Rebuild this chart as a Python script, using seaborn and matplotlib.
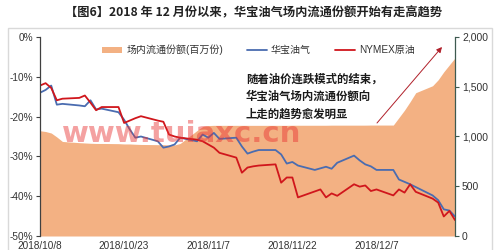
import matplotlib
matplotlib.use('Agg')
import matplotlib.pyplot as plt
from matplotlib.patches import Patch, Rectangle
from matplotlib.lines import Line2D
import seaborn as sns
import pandas as pd

# ---------------- data ----------------
dates = ['2018-10-08', '2018-10-09', '2018-10-10', '2018-10-11', '2018-10-12',
         '2018-10-15', '2018-10-16', '2018-10-17', '2018-10-18', '2018-10-19',
         '2018-10-22', '2018-10-23', '2018-10-24', '2018-10-25', '2018-10-26',
         '2018-10-29', '2018-10-30', '2018-10-31', '2018-11-01', '2018-11-02',
         '2018-11-05', '2018-11-06', '2018-11-07', '2018-11-08', '2018-11-09',
         '2018-11-12', '2018-11-13', '2018-11-14', '2018-11-15', '2018-11-16',
         '2018-11-19', '2018-11-20', '2018-11-21', '2018-11-22', '2018-11-23',
         '2018-11-26', '2018-11-27', '2018-11-28', '2018-11-29', '2018-11-30',
         '2018-12-03', '2018-12-04', '2018-12-05', '2018-12-06', '2018-12-07',
         '2018-12-10', '2018-12-11', '2018-12-12', '2018-12-13', '2018-12-14',
         '2018-12-17', '2018-12-18', '2018-12-19', '2018-12-20', '2018-12-21']

huabao = [-14.0, -13.3, -12.2, -17.0, -16.8,
          -17.2, -17.4, -15.9, -18.2, -18.0,
          -18.9, -20.8, -23.2, -25.3, -25.0,
          -26.2, -27.8, -27.5, -27.0, -25.3,
          -26.2, -24.5, -25.3, -24.1, -25.6,
          -25.3, -27.5, -29.3, -28.8, -28.4,
          -28.4, -29.5, -31.8, -31.4, -32.3,
          -33.4, -33.0, -32.6, -33.1, -31.6,
          -29.8, -31.0, -32.0, -32.5, -33.4,
          -33.4, -35.8, -36.4, -37.0, -37.7,
          -39.8, -41.0, -43.3, -43.6, -45.1]

nymex = [-12.2, -11.6, -12.8, -15.9, -15.5,
         -15.3, -14.7, -16.5, -18.4, -17.6,
         -17.6, -21.6, -21.0, -20.4, -19.9,
         -21.0, -21.3, -24.5, -25.0, -25.3,
         -25.8, -26.2, -27.0, -27.8, -29.1,
         -30.3, -34.1, -32.8, -32.5, -32.3,
         -32.0, -36.6, -35.3, -35.3, -40.3,
         -38.8, -38.3, -40.3, -39.3, -39.9,
         -37.0, -37.6, -37.3, -38.7, -38.3,
         -39.8, -38.3, -39.1, -37.0, -38.9,
         -40.6, -41.6, -45.1, -43.7, -46.0]

shares = [1058, 1050, 1035, 995, 950,
          938, 935, 932, 930, 930,
          928, 925, 925, 922, 920,
          918, 918, 915, 915, 930,
          1060, 1100, 1110, 1112, 1112,
          1112, 1112, 1112, 1112, 1112,
          1112, 1112, 1112, 1113, 1113,
          1113, 1113, 1113, 1114, 1114,
          1114, 1114, 1114, 1115, 1115,
          1115, 1190, 1265, 1350, 1440,
          1510, 1570, 1650, 1720, 1790]

series_names = ['华宝油气', 'NYMEX原油']
area_name = '场内流通份额(百万份)'
left_ticks = [-50, -40, -30, -20, -10, 0]
right_ticks = [0, 500, 1000, 1500, 2000]
tick_dates = ['2018-10-08', '2018-10-23', '2018-11-07', '2018-11-22', '2018-12-07']
tick_labels = ['2018/10/8', '2018/10/23', '2018/11/7', '2018/11/22', '2018/12/7']
title = '【图6】2018 年 12 月份以来，华宝油气场内流通份额开始有走高趋势'
note_lines = ['随着油价连跌模式的结束，', '华宝油气场内流通份额向', '上走的趋势愈发明显']
watermark = 'www.tuiaxc.cn'

# ---------------- style ----------------
AREA = '#F3B183'
BLUE = '#4A6CB0'
RED = '#D0161C'
TXT = '#333333'

sns.set_theme(style='white')
plt.rcParams['font.family'] = ['Liberation Sans', 'Noto Sans CJK SC', 'DejaVu Sans']
plt.rcParams['axes.unicode_minus'] = False

W, H = 499, 250
fig = plt.figure(figsize=(W / 100, H / 100), dpi=100)
fig.patch.set_facecolor('white')

# outer light frame
fig.patches.append(Rectangle((8 / W, -0.05), (492 - 8) / W, 1.05 - 28 / H,
                             transform=fig.transFigure, fill=False,
                             edgecolor='#D9D9D9', lw=1.0))

ax = fig.add_axes([40 / W, 14 / H, 415 / W, 199 / H])
ax2 = ax.twinx()
ax.set_zorder(ax2.get_zorder() + 1)
ax.patch.set_visible(False)

dt = pd.to_datetime(dates)

# area on right axis
ax2.fill_between(dt, shares, 0, color=AREA, lw=0)

# lines on left axis
df = pd.DataFrame({
    'date': list(dt) * 2,
    'value': huabao + nymex,
    'series': [series_names[0]] * len(dt) + [series_names[1]] * len(dt),
})
sns.lineplot(data=df, x='date', y='value', hue='series',
             palette={series_names[0]: BLUE, series_names[1]: RED},
             linewidth=1.3, ax=ax, legend=False)

ax.set_xlim(dt[0], dt[-1])
ax.set_ylim(-50, 0)
ax2.set_ylim(0, 2000)

ax.set_yticks(left_ticks)
ax.set_yticklabels([f'{v}%' for v in left_ticks])
ax2.set_yticks(right_ticks)
ax2.set_yticklabels([f'{v:,}' for v in right_ticks])
ax.set_xticks(pd.to_datetime(tick_dates))
ax.set_xticklabels(tick_labels)
ax.set_xlabel('')
ax.set_ylabel('')
ax2.set_ylabel('')

for s in ['top', 'right', 'bottom']:
    ax.spines[s].set_visible(False)
ax.spines['left'].set_color('#404040')
ax.spines['left'].set_linewidth(0.9)
for s in ['top', 'left', 'bottom']:
    ax2.spines[s].set_visible(False)
ax2.spines['right'].set_color('#3E5A50')
ax2.spines['right'].set_linewidth(0.9)

ax.tick_params(axis='y', direction='out', length=3, width=0.8, color='#404040',
               labelsize=7.2, labelcolor=TXT, pad=2, left=True)
ax.tick_params(axis='x', length=0, labelsize=7.2, labelcolor=TXT, pad=3.3)
ax2.tick_params(axis='y', direction='out', length=3, width=0.8, color='#3E5A50',
                labelsize=7.5, labelcolor=TXT, pad=2, right=True)
ax.grid(False)
ax2.grid(False)

# legend
handles = [Patch(facecolor=AREA, edgecolor='none'),
           Line2D([], [], color=BLUE, lw=1.3),
           Line2D([], [], color=RED, lw=1.3)]
labels = [area_name] + series_names
ax.legend(handles, labels, loc='center', bbox_to_anchor=(0.5265, 0.935), ncol=3,
          frameon=False, prop={'size': 7.2}, handlelength=2.0, handleheight=0.6,
          handletextpad=0.4, columnspacing=2.4, labelcolor=TXT)

# title
fig.text(254 / W, 1 - 13 / H, title, ha='center', va='center', fontsize=8.8,
         fontweight='bold', color='#222222', family=['Noto Sans CJK SC', 'DejaVu Sans'])

# annotation text
for i, line in enumerate(note_lines):
    fig.text(246 / W, 1 - (79 + 17.5 * i) / H, line, ha='left', va='center',
             fontsize=8.2, fontweight='bold', color='#1a1a1a',
             family=['Noto Sans CJK SC', 'DejaVu Sans'])

# arrow
ax.annotate('', xy=((442 - 40) / 415, (236 - 47) / 199), xycoords='axes fraction',
            xytext=((377 - 40) / 415, (236 - 123) / 199), textcoords='axes fraction',
            arrowprops=dict(arrowstyle='-|>', color='#B0202A', lw=0.7,
                            mutation_scale=8, shrinkA=0, shrinkB=0))

# watermark
fig.text(62 / W, 1 - 142 / H, watermark, ha='left', va='baseline', fontsize=21,
         fontweight='bold', color='#E83030', alpha=0.45, family='DejaVu Sans')

fig.savefig('out.png', dpi=100)
